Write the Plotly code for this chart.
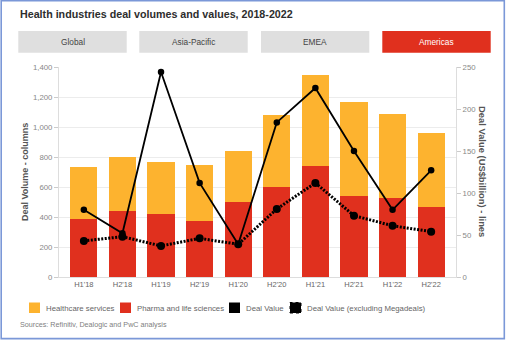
import plotly.graph_objects as go

# Half-year periods
periods = ["H1'18", "H2'18", "H1'19", "H2'19", "H1'20", "H2'20", "H1'21", "H2'21", "H1'22", "H2'22"]

# Deal volumes (number of deals)
pharma = [389, 438, 420, 373, 500, 597, 740, 540, 530, 469]
total_volume = [736, 802, 769, 747, 842, 1080, 1347, 1164, 1084, 962]
healthcare = [t - p for t, p in zip(total_volume, pharma)]

# Deal values (US$ billion)
deal_value = [80, 52, 244, 112, 39, 184, 225, 150, 80, 127]
deal_value_ex_mega = [43, 48, 37, 46, 39, 81, 112, 73, 61, 54]

# Tab labels
tabs = ["Global", "Asia-Pacific", "EMEA", "Americas"]
active_tab = "Americas"

YELLOW = "#FDB32F"
RED = "#E0301E"
FONT = "Liberation Sans, Arial, sans-serif"

W, H = 506, 340
L, R, T, B = 59, 456, 67, 277


def xp(px):
    return (px - L) / (R - L)


def yp(py):
    return (B - py) / (B - T)


fig = go.Figure()

fig.add_trace(go.Bar(
    x=periods, y=pharma, name="Pharma and life sciences",
    marker=dict(color=RED, line=dict(width=0)), showlegend=False,
))
fig.add_trace(go.Bar(
    x=periods, y=healthcare, name="Healthcare services",
    marker=dict(color=YELLOW, line=dict(width=0)), showlegend=False,
))
fig.add_trace(go.Scatter(
    x=periods, y=deal_value, name="Deal Value", yaxis="y2",
    mode="lines+markers", line=dict(color="black", width=1.8),
    marker=dict(color="black", size=6.5), showlegend=False,
))
fig.add_trace(go.Scatter(
    x=periods, y=deal_value_ex_mega, name="Deal Value (excluding Megadeals)", yaxis="y2",
    mode="lines+markers", line=dict(color="black", width=3, dash="2px,1.5px"),
    marker=dict(color="black", size=8), showlegend=False,
))

shapes = []
annotations = []

# Outer frame
shapes.append(dict(type="rect", xref="paper", yref="paper",
                   x0=xp(1.2), x1=xp(504.3), y0=yp(0.6), y1=yp(338.6),
                   line=dict(color="#7B98D8", width=1.6), fillcolor="rgba(0,0,0,0)", layer="above"))

# Title
annotations.append(dict(text="<b>Health industries deal volumes and values, 2018-2022</b>",
                        xref="paper", yref="paper", x=xp(18), y=yp(14), xanchor="left", yanchor="middle",
                        showarrow=False, font=dict(family=FONT, size=10.7, color="#2d2d2d")))

# Region tabs
tab_x = [(18.3, 126.7), (139.3, 247.7), (261, 369.3), (382.3, 490.7)]
for label, (x0, x1) in zip(tabs, tab_x):
    active = label == active_tab
    shapes.append(dict(type="rect", xref="paper", yref="paper",
                       x0=xp(x0), x1=xp(x1), y0=yp(52.7), y1=yp(31),
                       fillcolor=RED if active else "#DFDFDF", line=dict(width=0), layer="below"))
    annotations.append(dict(text=label, xref="paper", yref="paper",
                            x=xp((x0 + x1) / 2), y=yp(42), xanchor="center", yanchor="middle",
                            showarrow=False,
                            font=dict(family=FONT, size=8.3, color="white" if active else "#444444")))

# Axis titles
annotations.append(dict(text="<b>Deal Volume - columns</b>", xref="paper", yref="paper",
                        x=xp(25), y=yp(172), textangle=-90, showarrow=False,
                        xanchor="center", yanchor="middle",
                        font=dict(family=FONT, size=9, color="#555555")))
annotations.append(dict(text="<b>Deal Value (US$billion) - lines</b>", xref="paper", yref="paper",
                        x=xp(483), y=yp(172), textangle=90, showarrow=False,
                        xanchor="center", yanchor="middle",
                        font=dict(family=FONT, size=9.4, color="#555555")))

# Legend
legend_items = [
    ("Healthcare services", YELLOW, 29, 40, None),
    ("Pharma and life sciences", RED, 120, 131, None),
    ("Deal Value", "black", 229, 240, None),
    ("Deal Value (excluding Megadeals)", "black", 290, 301, "dot"),
]
for label, color, x0, x1, dash in legend_items:
    line = dict(width=0) if dash is None else dict(color="black", width=1, dash="dot")
    shapes.append(dict(type="rect", xref="paper", yref="paper",
                       x0=xp(x0), x1=xp(x1), y0=yp(313), y1=yp(302.5),
                       fillcolor=color, line=line))
    annotations.append(dict(text=label, xref="paper", yref="paper",
                            x=xp(x1 + 4), y=yp(308), xanchor="left", yanchor="middle",
                            showarrow=False, font=dict(family=FONT, size=7.8, color="#666666")))

# Source note
annotations.append(dict(text="Sources: Refinitiv, Dealogic and PwC analysis", xref="paper", yref="paper",
                        x=xp(18), y=yp(324), xanchor="left", yanchor="middle",
                        showarrow=False, font=dict(family=FONT, size=7.2, color="#808080")))

fig.update_layout(
    width=W, height=H,
    margin=dict(l=L, r=W - R, t=T, b=H - B, pad=0),
    paper_bgcolor="white", plot_bgcolor="white",
    barmode="stack", bargap=0.295,
    font=dict(family=FONT, size=8, color="#777777"),
    xaxis=dict(
        showgrid=False, showline=True, linecolor="#dddddd", linewidth=1,
        ticks="", tickfont=dict(size=7.5, color="#666666"), fixedrange=True,
    ),
    yaxis=dict(
        range=[0, 1400], dtick=200, tickformat=",d",
        showgrid=True, gridcolor="#ececec", gridwidth=1,
        showline=True, linecolor="#dddddd", linewidth=1,
        ticks="outside", ticklen=4, tickcolor="#cccccc",
        tickfont=dict(size=7.8, color="#888888"), zeroline=False,
    ),
    yaxis2=dict(
        range=[0, 250], dtick=50, overlaying="y", side="right",
        showgrid=False, showline=True, linecolor="#dddddd", linewidth=1,
        ticks="outside", ticklen=4, tickcolor="#cccccc",
        tickfont=dict(size=7.8, color="#888888"), zeroline=False,
    ),
    shapes=shapes,
    annotations=annotations,
    showlegend=False,
)

fig.write_html("out.html")
